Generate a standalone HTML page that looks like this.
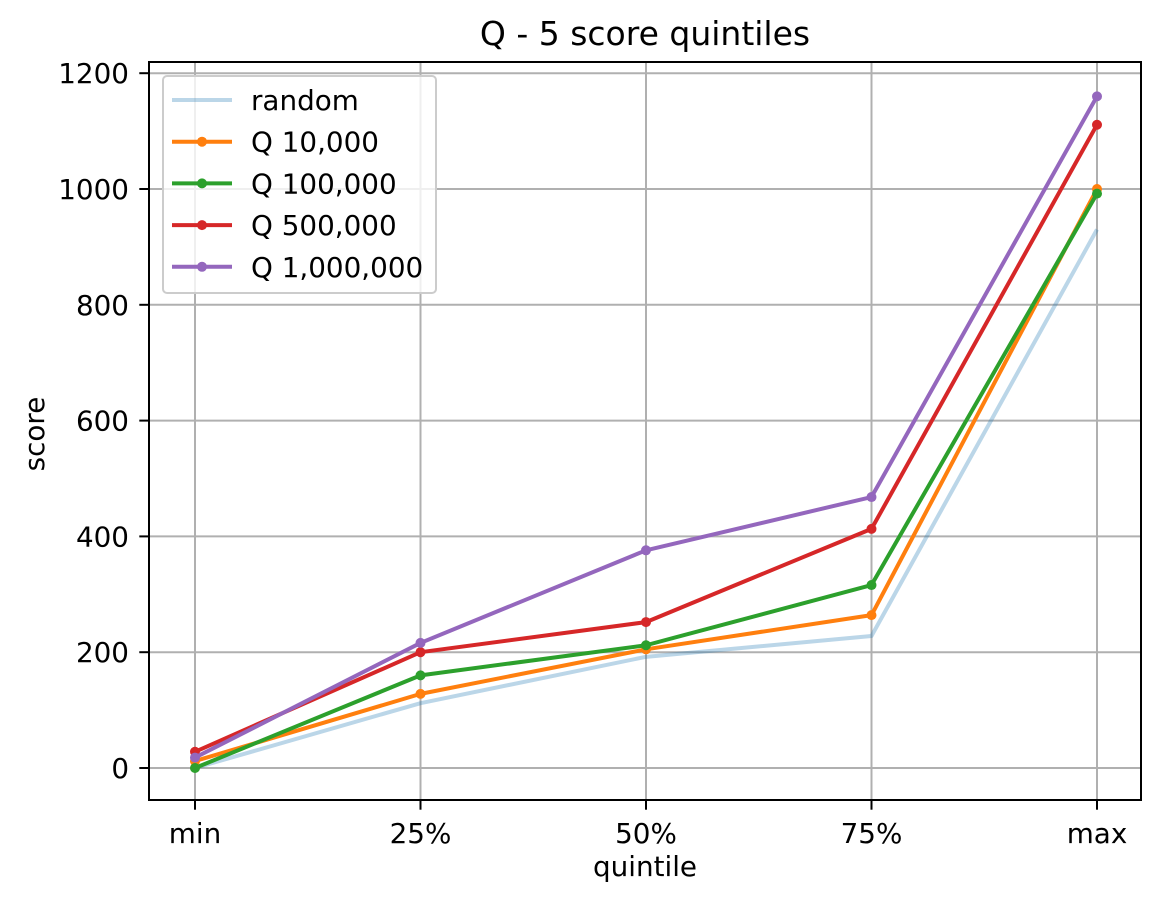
<!DOCTYPE html>
<html><head><meta charset="utf-8"><style>
body{margin:0;background:#fff}
svg text{font-family:"DejaVu Sans","Liberation Sans",sans-serif;fill:#000}
</style></head><body>
<svg id="chart" width="1161" height="908" xmlns="http://www.w3.org/2000/svg">
<g id="grid"></g>
<g id="series"></g>
<rect x="149" y="62" width="992" height="738" fill="none" stroke="#000" stroke-width="2"/>
<g id="ticks"></g>
<text x="645" y="45" font-size="33" text-anchor="middle">Q - 5 score quintiles</text>
<text x="645" y="876" font-size="27.8" text-anchor="middle">quintile</text>
<text transform="translate(44,434) rotate(-90)" font-size="27.8" text-anchor="middle">score</text>
<g id="legend"></g>
</svg>
<script>
const categories=["min","25%","50%","75%","max"];
const yTicks=[0,200,400,600,800,1000,1200];
const seriesNames=["random","Q 10,000","Q 100,000","Q 500,000","Q 1,000,000"];
const randomVals=[0,112,192,228,930];
const q10k=[12,128,205,264,1000];
const q100k=[0,160,212,316,992];
const q500k=[28,200,252,413,1111];
const q1m=[18,216,376,468,1160];
const colors=["#1f77b4","#ff7f0e","#2ca02c","#d62728","#9467bd"];
const allSeries=[randomVals,q10k,q100k,q500k,q1m];
const NS="http://www.w3.org/2000/svg";
const x=i=>195+i*225.5;
const y=v=>768-v*0.579;
function mk(tag,attrs,parent){const e=document.createElementNS(NS,tag);for(const k in attrs)e.setAttribute(k,attrs[k]);parent.appendChild(e);return e;}
const grid=document.getElementById('grid'),ticks=document.getElementById('ticks'),ser=document.getElementById('series'),leg=document.getElementById('legend');
categories.forEach((c,i)=>{
 const l=mk('line',{x1:x(i),x2:x(i),y1:62,y2:800,stroke:'#b0b0b0','stroke-width':2},grid);
 
 const t=mk('line',{x1:x(i),x2:x(i),y1:800,y2:809.7,stroke:'#000','stroke-width':2},ticks);
 
 const tx=mk('text',{x:x(i),y:843,'font-size':27.8,'text-anchor':'middle'},ticks);tx.textContent=c;
 
});
yTicks.forEach(v=>{
 const l=mk('line',{x1:149,x2:1141,y1:y(v),y2:y(v),stroke:'#b0b0b0','stroke-width':2},grid);
 
 const t=mk('line',{x1:139.3,x2:149,y1:y(v),y2:y(v),stroke:'#000','stroke-width':2},ticks);
 
 const tx=mk('text',{x:129,y:y(v)+10,'font-size':27.8,'text-anchor':'end'},ticks);tx.textContent=v;
 
});
allSeries.forEach((vals,s)=>{
 const pts=vals.map((v,i)=>x(i)+','+y(v)).join(' ');
 const op=s===0?0.3:1;
 const pl=mk('polyline',{points:pts,fill:'none',stroke:colors[s],'stroke-width':4,'stroke-opacity':op,'stroke-linejoin':'round'},ser);
 
 if(s>0)vals.forEach((v,i)=>{const c=mk('circle',{cx:x(i),cy:y(v),r:5,fill:colors[s]},ser);
  });
});
const box=mk('rect',{x:163,y:76,width:273,height:217,rx:4,fill:'#fff','fill-opacity':0.8,stroke:'#ccc','stroke-width':2},leg);

seriesNames.forEach((n,s)=>{
 const ly=100+s*41.7;
 const g=mk('g',{},leg);
 mk('line',{x1:172,x2:232,y1:ly,y2:ly,stroke:colors[s],'stroke-width':4,'stroke-opacity':s===0?0.3:1},g);
 if(s>0)mk('circle',{cx:202,cy:ly,r:5,fill:colors[s]},g);
 const t=mk('text',{x:251,y:ly+10,'font-size':27.8},g);t.textContent=n;
});
</script>
</body></html>
